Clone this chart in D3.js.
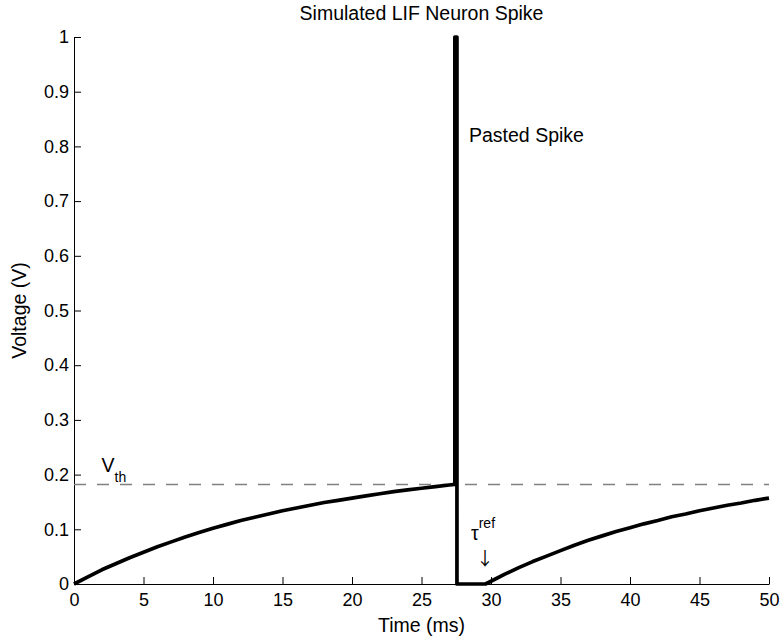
<!DOCTYPE html>
<html>
<head>
<meta charset="utf-8">
<script src="https://cdn.jsdelivr.net/npm/d3@7"></script>
<style>
  html, body { margin: 0; padding: 0; background: #fff; }
  svg { display: block; }
  text { font-family: "Liberation Sans", Arial, Helvetica, sans-serif; fill: #000; }
</style>
</head>
<body>
<svg id="chart" width="780" height="641"></svg>
<script>
// Membrane charging up to threshold (time in ms, voltage in V)
const riseTime = [0, 1, 2, 3, 4, 5, 6, 7, 8, 9, 10, 11, 12, 13, 14, 15, 16, 17, 18, 19, 20, 21, 22, 23, 24, 25, 26, 27, 27.4];
const riseVolt = [0, 0.013, 0.026, 0.037, 0.048, 0.058, 0.068, 0.077, 0.086, 0.094, 0.102, 0.109, 0.116, 0.122, 0.128, 0.134, 0.139, 0.144, 0.149, 0.153, 0.157, 0.161, 0.165, 0.169, 0.172, 0.175, 0.178, 0.181, 0.182];

// Pasted spike: up to peak, back down, then held at reset during refractory period
const spikeTime = [27.4, 27.55, 27.55, 29.6];
const spikeVolt = [1, 1, 0, 0];

// Recharging after the refractory period
const recoverTime = [30, 31, 32, 33, 34, 35, 36, 37, 38, 39, 40, 41, 42, 43, 44, 45, 46, 47, 48, 49, 50];
const recoverVolt = [0.005, 0.018, 0.030, 0.041, 0.051, 0.061, 0.071, 0.080, 0.088, 0.096, 0.103, 0.110, 0.116, 0.123, 0.128, 0.134, 0.139, 0.144, 0.148, 0.153, 0.157];

const threshold = 0.182;

const xTicks = [0, 5, 10, 15, 20, 25, 30, 35, 40, 45, 50];
const yTicks = [0, 0.1, 0.2, 0.3, 0.4, 0.5, 0.6, 0.7, 0.8, 0.9, 1];
const yTickLabels = ["0", "0.1", "0.2", "0.3", "0.4", "0.5", "0.6", "0.7", "0.8", "0.9", "1"];

const margin = { left: 74, right: 11, top: 37, bottom: 57 };
const W = 780, H = 641;

const svg = d3.select("#chart");
const x = d3.scaleLinear().domain([0, 50]).range([margin.left, W - margin.right]);
const y = d3.scaleLinear().domain([0, 1]).range([H - margin.bottom, margin.top]);

// Axes with inward ticks
const xAxis = d3.axisBottom(x).tickValues(xTicks).tickFormat(d3.format("d"))
  .tickSizeInner(-7).tickSizeOuter(0).tickPadding(9);
const yAxis = d3.axisLeft(y).tickValues(yTicks).tickFormat((d, i) => yTickLabels[i])
  .tickSizeInner(-7).tickSizeOuter(0).tickPadding(5);

const gx = svg.append("g").attr("transform", `translate(0,${y(0)})`).call(xAxis);
const gy = svg.append("g").attr("transform", `translate(${x(0)},0)`).call(yAxis);
[gx, gy].forEach(g => {
  g.select(".domain").attr("stroke", "#000").attr("stroke-width", 1);
  g.selectAll(".tick line").attr("stroke", "#000").attr("stroke-width", 1);
  g.selectAll(".tick text").attr("font-size", 18).attr("font-family", null).attr("fill", "#000");
});

// Threshold line
svg.append("line")
  .attr("x1", x(0)).attr("x2", x(50))
  .attr("y1", y(threshold)).attr("y2", y(threshold))
  .attr("stroke", "#808080").attr("stroke-width", 1.5)
  .attr("stroke-dasharray", "12,11");

// Voltage trace
const trace = [];
riseTime.forEach((t, i) => trace.push([t, riseVolt[i]]));
spikeTime.forEach((t, i) => trace.push([t, spikeVolt[i]]));
recoverTime.forEach((t, i) => trace.push([t, recoverVolt[i]]));

const line = d3.line().x(d => x(d[0])).y(d => y(d[1]));
svg.append("path")
  .attr("d", line(trace))
  .attr("fill", "none")
  .attr("stroke", "#000")
  .attr("stroke-width", 3.7)
  .attr("stroke-linejoin", "round");

// Title and axis labels
svg.append("text").attr("x", (x(0) + x(50)) / 2).attr("y", 19.5)
  .attr("text-anchor", "middle").attr("font-size", 19.5)
  .text("Simulated LIF Neuron Spike");
svg.append("text").attr("x", (x(0) + x(50)) / 2).attr("y", 631.5)
  .attr("text-anchor", "middle").attr("font-size", 19.5)
  .text("Time (ms)");
svg.append("text")
  .attr("transform", `translate(26,${(y(0) + y(1)) / 2}) rotate(-90)`)
  .attr("text-anchor", "middle").attr("font-size", 19.5)
  .text("Voltage (V)");

// Annotations
svg.append("text").attr("x", 469).attr("y", 141.7).attr("font-size", 19.5)
  .text("Pasted Spike");

const vth = svg.append("text").attr("x", 101.5).attr("y", 471.7).attr("font-size", 19.5);
vth.append("tspan").text("V");
vth.append("tspan").attr("font-size", 14).attr("dy", 10.5).text("th");

const tau = svg.append("text").attr("x", 471).attr("y", 540).attr("font-size", 19.5);
tau.append("tspan").text("τ");
tau.append("tspan").attr("font-size", 14).attr("dy", -11.7).text("ref");

svg.append("text").attr("x", 485).attr("y", 565).attr("text-anchor", "middle")
  .style("font-family", "'Noto Sans CJK JP', 'DejaVu Sans', sans-serif")
  .attr("font-size", 18).attr("fill", "#000").text("\u2193");
</script>
</body>
</html>
